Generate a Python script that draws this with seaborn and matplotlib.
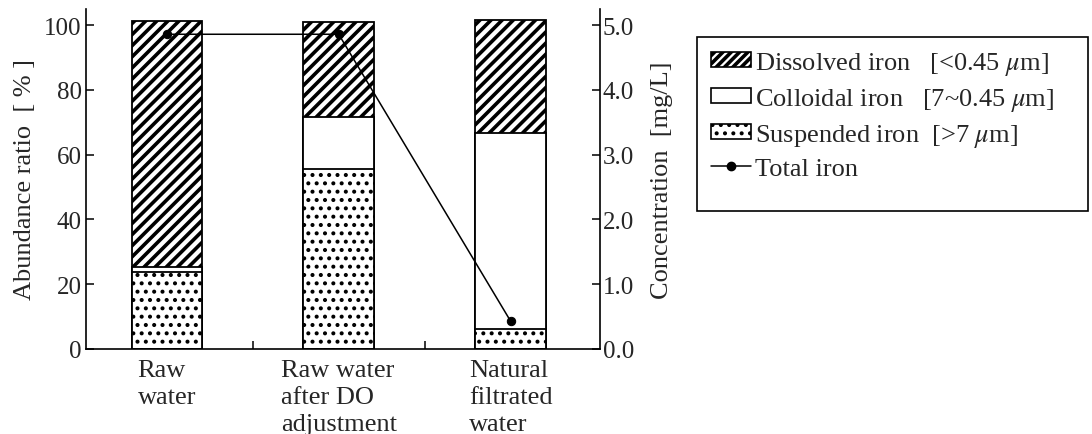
import matplotlib
matplotlib.use("Agg")
import matplotlib.pyplot as plt
import seaborn as sns
import numpy as np
from matplotlib.patches import Patch, Rectangle
from matplotlib.lines import Line2D

categories = ["Raw\nwater", "Raw water\nafter DO\nadjustment", "Natural\nfiltrated\nwater"]
suspended = [23.8, 55.6, 6.2]
colloidal = [1.5, 16.2, 60.4]
dissolved = [75.9, 29.2, 34.9]
total_iron = [4.86, 4.86, 0.43]
left_ticks = [0, 20, 40, 60, 80, 100]
right_ticks = [0.0, 1.0, 2.0, 3.0, 4.0, 5.0]

sns.set_theme(style="white")
plt.rcParams["font.family"] = ["Liberation Serif", "DejaVu Serif"]
plt.rcParams["mathtext.fontset"] = "stix"
plt.rcParams["hatch.color"] = "black"

fig = plt.figure(figsize=(10.92, 4.35), dpi=100)
ax = fig.add_axes([86/1092, 1-350/435, (600-86)/1092, (350-10)/435])

susp = np.array(suspended)
coll_top = susp + np.array(colloidal)
diss_top = coll_top + np.array(dissolved)

STRIPE_LW = 2.6
DOT_LW = 1.7


def set_hlw(patches, lw):
    for p in patches:
        if hasattr(p, "set_hatch_linewidth"):
            p.set_hatch_linewidth(lw)


common = dict(ax=ax, errorbar=None, width=0.41, edgecolor="black", linewidth=1.3,
              color="white", saturation=1)
plt.rcParams["hatch.linewidth"] = STRIPE_LW
sns.barplot(x=categories, y=list(diss_top), hatch="///", **common)
set_hlw(ax.patches, STRIPE_LW)
sns.barplot(x=categories, y=list(coll_top), **common)
n_before = len(ax.patches)
plt.rcParams["hatch.linewidth"] = DOT_LW
sns.barplot(x=categories, y=list(susp), hatch="..", **common)
set_hlw(ax.patches[n_before:], DOT_LW)

ax.set_xlim(-0.47, 2.52)
ax.set_ylim(0, 105)
ax.set_yticks(left_ticks)
ax.set_yticklabels([str(t) for t in left_ticks])
ax.set_xticks([0, 1, 2])
ax.set_xticklabels(categories, fontsize=19, multialignment="left", linespacing=1.3)
ax.set_xticks([0.5, 1.5], minor=True)
ax.tick_params(axis="x", which="major", length=0, pad=7)
ax.tick_params(axis="x", which="minor", direction="in", length=6, width=1.1, color="black", bottom=True)
ax.tick_params(axis="y", direction="in", length=6, width=1.1, color="black", left=True, labelsize=18, pad=3)
ax.set_ylabel("Abundance ratio  [ % ]", fontsize=19, labelpad=6)
ax.set_xlabel("")
for s in ["left", "bottom", "right"]:
    ax.spines[s].set_color("black")
    ax.spines[s].set_linewidth(1.2)
ax.spines["top"].set_visible(False)
ax.spines["right"].set_visible(False)

ax2 = ax.twinx()
sns.lineplot(x=[0, 1, 2], y=total_iron, ax=ax2, color="black", marker="o",
             markersize=6, linewidth=1.1, markeredgecolor="black")
ax2.set_xlim(-0.47, 2.52)
ax2.set_ylim(0, 5.25)
ax2.set_yticks(right_ticks)
ax2.set_yticklabels([f"{t:.1f}" for t in right_ticks])
ax2.tick_params(axis="y", direction="in", length=6, width=1.1, color="black", right=True, labelsize=18, pad=2)
ax2.set_ylabel("Concentration  [mg/L]", fontsize=19, labelpad=12)
ax2.set_xlabel("")
for s in ["top", "left", "bottom"]:
    ax2.spines[s].set_visible(False)
ax2.spines["right"].set_color("black")
ax2.spines["right"].set_linewidth(1.2)

handles = [
    Patch(facecolor="white", edgecolor="black", hatch="////", linewidth=1.2),
    Patch(facecolor="white", edgecolor="black", linewidth=1.2),
    Patch(facecolor="white", edgecolor="black", hatch="..", linewidth=1.2),
    Line2D([], [], color="black", marker="o", markersize=6, linewidth=1.1),
]
labels = [
    r"Dissolved iron   [<0.45 $\mu$m]",
    r"Colloidal iron   [7~0.45 $\mu$m]",
    r"Suspended iron  [>7 $\mu$m]",
    "Total iron",
]
leg = fig.legend(handles, labels, loc="upper left", bbox_to_anchor=(711/1092, 1-51/435),
                 fontsize=19, frameon=False, handlelength=1.5, handleheight=0.5,
                 handletextpad=0.15, labelspacing=0.34, borderpad=0.0, borderaxespad=0)
leg_patches = leg.get_patches()
if len(leg_patches) >= 3:
    set_hlw([leg_patches[0]], STRIPE_LW)
    set_hlw([leg_patches[2]], DOT_LW)
frame = Rectangle((697/1092, 1-212/435), (1088-697)/1092, (212-38)/435,
                  transform=fig.transFigure, facecolor="none", edgecolor="black",
                  linewidth=1.2, zorder=5)
fig.add_artist(frame)

fig.savefig("out.png", dpi=100)
